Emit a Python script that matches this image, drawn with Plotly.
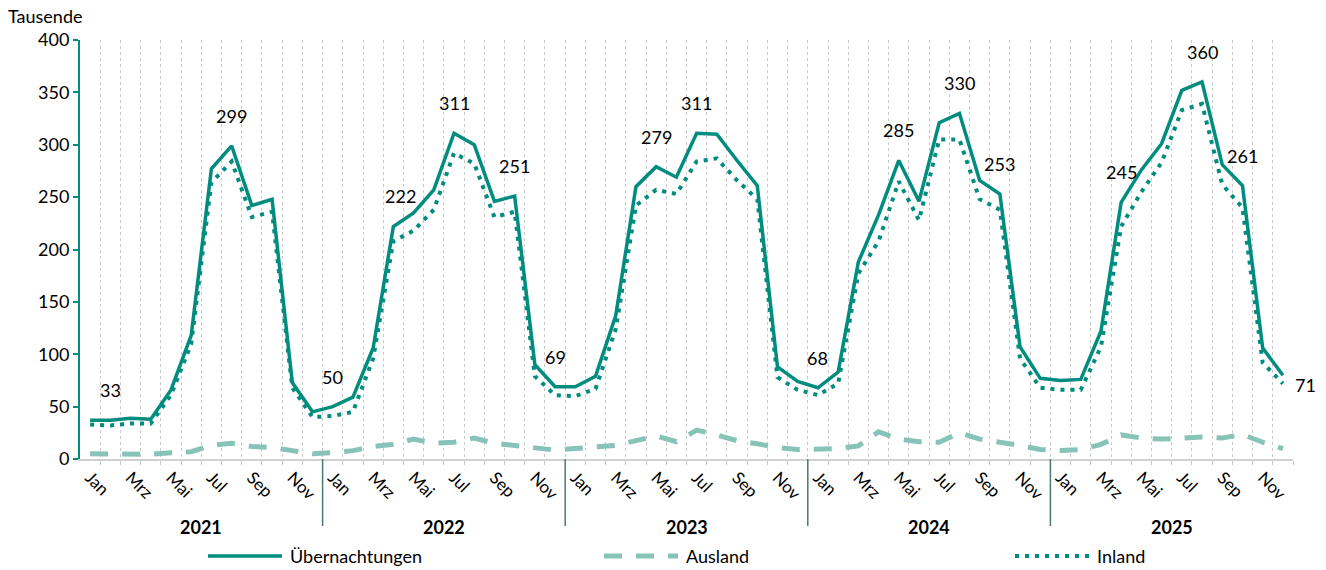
import plotly.graph_objects as go

months = ["Jan", "Feb", "Mrz", "Apr", "Mai", "Jun", "Jul", "Aug", "Sep", "Okt", "Nov", "Dez"]
years = ["2021", "2022", "2023", "2024", "2025"]

uebernachtungen = [
    37, 37, 39, 38, 66, 118, 277, 299, 242, 248, 73, 45,
    50, 59, 106, 222, 235, 257, 311, 300, 246, 251, 90, 69,
    69, 79, 137, 260, 279, 269, 311, 310, 285, 261, 88, 74,
    68, 83, 188, 233, 285, 246, 321, 330, 266, 253, 107, 77,
    75, 76, 122, 245, 276, 301, 352, 360, 281, 261, 106, 80,
]
inland = [
    33, 32, 34, 34, 61, 110, 264, 284, 231, 236, 68, 40,
    41, 45, 96, 208, 218, 238, 292, 282, 231, 236, 79, 61,
    60, 67, 124, 242, 257, 253, 284, 287, 266, 248, 78, 66,
    61, 72, 177, 208, 265, 228, 305, 305, 248, 238, 96, 68,
    66, 66, 107, 222, 255, 283, 333, 339, 262, 240, 92, 72,
]
ausland = [
    5, 4.5, 4, 4.5, 6, 7, 13, 15, 12, 11, 8, 5,
    6, 8, 12, 14, 19, 15, 16, 20, 15, 13, 10, 8.5,
    10, 11, 13, 17.5, 22, 16.5, 27.5, 23, 17.5, 14.5, 11, 9,
    9.5, 10, 12.5, 26, 19, 16.5, 16, 25, 19, 16.5, 13, 9,
    8, 9, 14, 23, 20, 19, 19.5, 21, 20, 23.5, 16, 10,
]

label_idx = [1, 7, 12, 15, 18, 21, 23, 28, 30, 36, 40, 43, 45, 51, 55, 57, 59]
label_text = ["33", "299", "50", "222", "311", "251", "69", "279", "311",
              "68", "285", "330", "253", "245", "360", "261", "71"]

series_names = ["Übernachtungen", "Ausland", "Inland"]

n = len(uebernachtungen)
x = list(range(n))
month_labels = [months[i % 12] for i in x]

TEAL = "#008C7E"
LIGHT = "#88C3B8"
FONT = "Lato"
FS = 18

W, H = 1326, 570
ML, MR, MT, MB = 80, 33, 40, 111
PW, PH = W - ML - MR, H - MT - MB


def px_to_paper_x(px):
    return (px - ML) / PW


def px_to_paper_y(py):
    return (H - MB - py) / PH


styles = [
    dict(color=TEAL, width=3.5),
    dict(color=LIGHT, width=5, dash="18px,14px"),
    dict(color=TEAL, width=4, dash="4px,6px"),
]
series_values = [uebernachtungen, ausland, inland]

fig = go.Figure()
for name, vals, st in zip(series_names, series_values, styles):
    fig.add_trace(go.Scatter(x=x, y=vals, mode="lines", name=name, line=st, showlegend=False))

annotations = []
for i, t in zip(label_idx, label_text):
    if i == n - 1:
        annotations.append(dict(x=i, y=uebernachtungen[i], text=t, showarrow=False,
                                xanchor="left", yanchor="middle", xshift=10, yshift=-10,
                                font=dict(size=FS, color="black", family=FONT)))
    else:
        annotations.append(dict(x=i, y=uebernachtungen[i], text=t, showarrow=False,
                                xanchor="center", yanchor="middle", yshift=30,
                                xshift=(7 if t == "222" else 0),
                                font=dict(size=FS, color="black", family=FONT)))

for k, yr in enumerate(years):
    annotations.append(dict(x=k * 12 + 5.5, y=px_to_paper_y(527), xref="x", yref="paper",
                            text="<b>%s</b>" % yr, showarrow=False,
                            xanchor="center", yanchor="middle",
                            font=dict(size=FS, color="black", family=FONT)))

annotations.append(dict(x=px_to_paper_x(6), y=px_to_paper_y(16), xref="paper", yref="paper",
                        text="Tausende", showarrow=False, xanchor="left", yanchor="middle",
                        font=dict(size=FS, color="black", family=FONT)))

shapes = []
for k in range(1, len(years)):
    xs = k * 12 - 0.5
    shapes.append(dict(type="line", xref="x", yref="paper", x0=xs, x1=xs,
                       y0=0, y1=px_to_paper_y(526),
                       line=dict(color="#4A7873", width=1.5)))

# legend (drawn manually to reproduce long line samples)
leg_y = px_to_paper_y(556)
leg_starts = [208, 604, 1015]
for name, st, sx in zip(series_names, styles, leg_starts):
    shapes.append(dict(type="line", xref="paper", yref="paper",
                       x0=px_to_paper_x(sx), x1=px_to_paper_x(sx + 74),
                       y0=leg_y, y1=leg_y, line=st))
    annotations.append(dict(x=px_to_paper_x(sx + 80), y=leg_y, xref="paper", yref="paper",
                            text=name, showarrow=False, xanchor="left", yanchor="middle",
                            font=dict(size=FS, color="black", family=FONT)))

fig.update_layout(
    width=W, height=H,
    margin=dict(l=ML, r=MR, t=MT, b=MB, autoexpand=False),
    paper_bgcolor="white", plot_bgcolor="white",
    font=dict(family=FONT, size=FS, color="black"),
    annotations=annotations,
    shapes=shapes,
    showlegend=False,
)

fig.update_xaxes(
    range=[-0.5, n - 0.5],
    tickmode="array",
    tickvals=x[::2],
    ticktext=month_labels[::2],
    tickangle=45,
    ticks="",
    showgrid=False,
    showline=True, linecolor="#D0D0D0", linewidth=2,
    tickfont=dict(size=17, family=FONT, color="black"),
    zeroline=False,
    automargin=False,
    minor=dict(tickmode="array", tickvals=[i + 0.5 for i in range(n)],
               showgrid=True, griddash="dot", gridcolor="#C8C8C8", gridwidth=1,
               ticks="outside", ticklen=4, tickcolor="#C8C8C8"),
)

fig.update_yaxes(
    range=[0, 400],
    tick0=0, dtick=50,
    showgrid=False,
    showline=True, linecolor=TEAL, linewidth=2,
    ticks="outside", ticklen=5, tickcolor=TEAL, tickwidth=2,
    tickfont=dict(size=FS, family=FONT, color="black"),
    zeroline=False,
    automargin=False,
)

fig.write_html("out.html",
               config={"displayModeBar": False},
               post_script="document.body.style.margin='0px';document.body.style.overflow='hidden';")
